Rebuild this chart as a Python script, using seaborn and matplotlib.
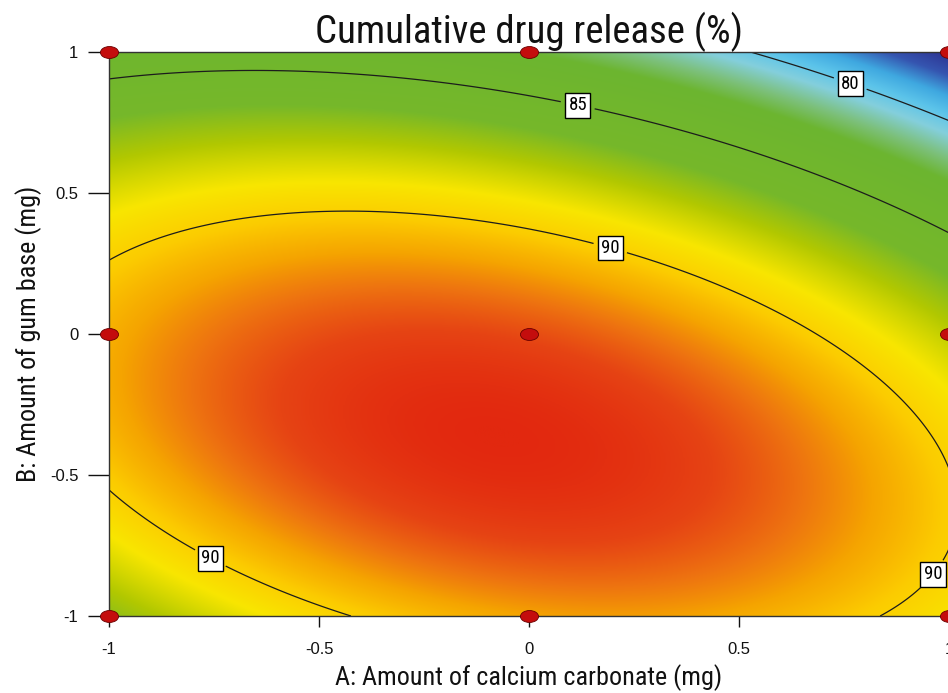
import numpy as np
import matplotlib
matplotlib.use("Agg")
import matplotlib.pyplot as plt
import matplotlib.font_manager as fm
from matplotlib.colors import LinearSegmentedColormap
from matplotlib.path import Path
import pandas as pd
import seaborn as sns

# Quadratic response-surface model (coded factors A, B)
# Y = b0 + bA*A + bB*B + bAB*A*B + bAA*A^2 + bBB*B^2
coef_names = ["b0", "bA", "bB", "bAB", "bAA", "bBB"]
coef_values = [92.262, -1.357, -4.084, -2.530, -2.847, -5.337]

# Design points of the 3^2 factorial
design_A = [-1, 0, 1, -1, 0, 1, -1, 0, 1]
design_B = [-1, -1, -1, 0, 0, 0, 1, 1, 1]

contour_levels = [80, 85, 90]
label_positions = [(0.77, 0.91), (0.12, 0.84), (0.20, 0.34), (-0.75, -0.77), (0.96, -0.85)]

tick_values = [-1, -0.5, 0, 0.5, 1]
tick_labels = ["-1", "-0.5", "0", "0.5", "1"]

title = "Cumulative drug release (%)"
x_label = "A: Amount of calcium carbonate (mg)"
y_label = "B: Amount of gum base (mg)"

sns.set_theme(style="ticks")
available = {f.name for f in fm.fontManager.ttflist}
family = next((f for f in ["Liberation Sans Narrow", "Arial Narrow", "Roboto Condensed",
                           "Archivo Narrow", "PT Sans Narrow", "Liberation Sans"]
               if f in available), "DejaVu Sans")
plt.rcParams["font.family"] = [family, "DejaVu Sans"]
tick_family = ["Liberation Sans", "DejaVu Sans"]

c = dict(zip(coef_names, coef_values))
grid = np.linspace(-1, 1, 601)
AA, BB = np.meshgrid(grid, grid)
Z = (c["b0"] + c["bA"] * AA + c["bB"] * BB + c["bAB"] * AA * BB
     + c["bAA"] * AA ** 2 + c["bBB"] * BB ** 2)

cmap = LinearSegmentedColormap.from_list(
    "response",
    [(0.00, "#2d3190"), (0.08, "#3555b0"), (0.15, "#3fa8e0"), (0.21, "#5cc4ea"),
     (0.27, "#84cfdc"), (0.34, "#7cc07a"), (0.40, "#6cb530"), (0.61, "#76b82a"),
     (0.69, "#b2c800"), (0.77, "#f8e600"), (0.83, "#fccc00"), (0.88, "#f5a400"),
     (0.92, "#ee7410"), (0.96, "#e64414"), (1.00, "#e2280f")], N=2048)

fig = plt.figure(figsize=(9.48, 6.93), dpi=100)
ax = fig.add_axes([109 / 948, 1 - 616 / 693, 840 / 948, 564 / 693])

ax.imshow(Z, extent=[-1, 1, -1, 1], origin="lower", cmap=cmap,
          vmin=Z.min(), vmax=Z.max(), interpolation="bilinear", aspect="auto")
cs = ax.contour(AA, BB, Z, levels=contour_levels, colors="#1c1c1c", linewidths=0.9)
labels = ax.clabel(cs, fmt="%d", fontsize=13.5, inline=True, inline_spacing=8,
                   manual=label_positions)
for t in labels:
    t.set_color("black")
    t.set_bbox(dict(boxstyle="square,pad=0.18", facecolor="white",
                    edgecolor="black", linewidth=1.0))
    t.set_rotation(0)

# Elliptical marker for the design points
circle = Path.unit_circle()
ellipse = Path(circle.vertices * np.array([1.0, 0.66]), circle.codes)
points = pd.DataFrame({"A": design_A, "B": design_B})
sns.scatterplot(data=points, x="A", y="B", ax=ax, marker=ellipse, s=170,
                color="#c40d0d", edgecolor="#6a0000", linewidth=0.6,
                clip_on=False, zorder=5, legend=False)

ax.set_xlim(-1, 1)
ax.set_ylim(-1, 1)
ax.set_xticks(tick_values, tick_labels)
ax.set_yticks(tick_values, tick_labels)
ax.tick_params(axis="x", direction="out", length=8, width=1, pad=11,
               labelsize=12, colors="#111111")
ax.tick_params(axis="y", direction="out", length=15, width=1, pad=7,
               labelsize=12, colors="#111111")
for lab in ax.get_xticklabels() + ax.get_yticklabels():
    lab.set_fontfamily(tick_family)
for s in ax.spines.values():
    s.set_color("#333333")
    s.set_linewidth(1.0)
ax.set_xlabel(x_label, fontsize=18.8, labelpad=5, color="#111111")
ax.set_ylabel(y_label, fontsize=18.8, labelpad=6, color="#111111")
ax.set_title(title, fontsize=28, pad=5, color="#111111")
ax.grid(False)

fig.savefig("out.png", dpi=100)
